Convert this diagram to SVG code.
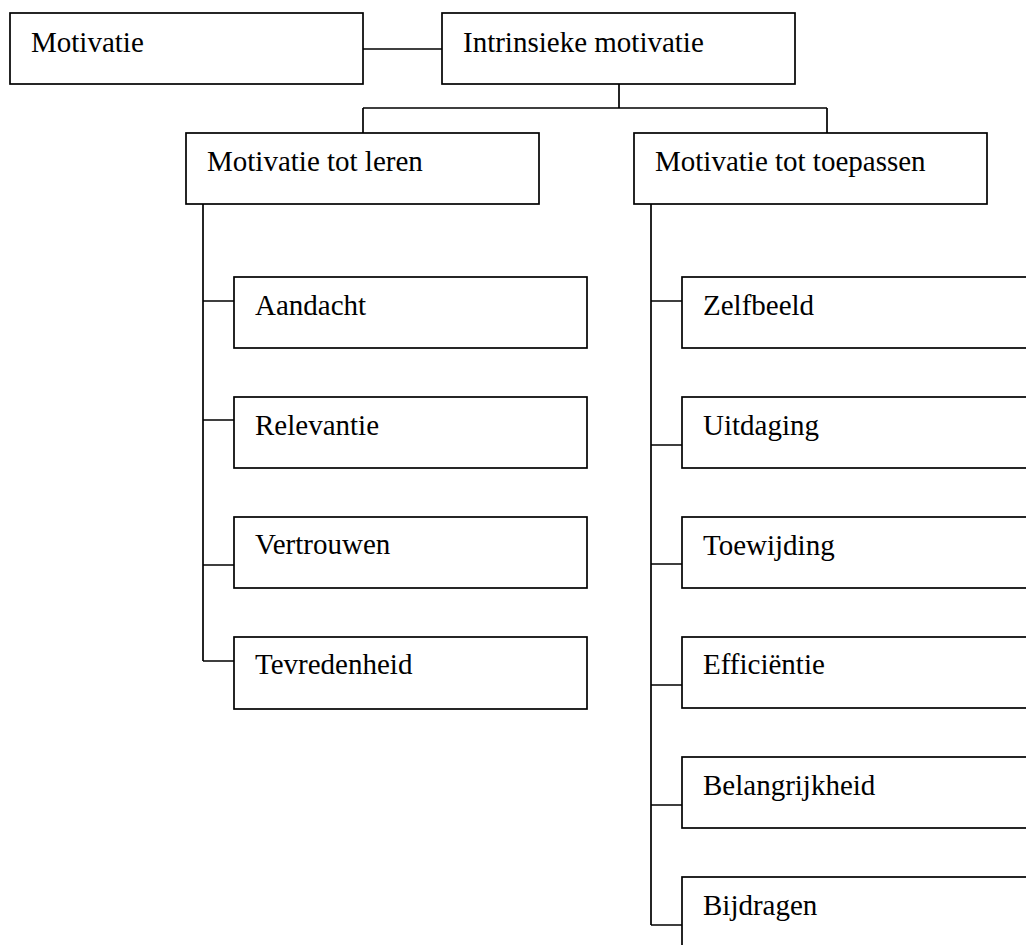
<svg xmlns="http://www.w3.org/2000/svg" width="1026" height="945" viewBox="0 0 1026 945">
<style>
rect.n{fill:#fff;stroke:#000;stroke-width:1.7}
text{font-family:"Liberation Serif","Times New Roman",serif;font-size:29px;fill:#000}
.c{fill:none;stroke:#000;stroke-width:1.7}
</style>
<rect width="1026" height="945" fill="#fff"/>
<g id="connectors" class="c">
<path d="M363 49H442"/>
<path d="M619 84V108M363 108H827M363 108V133M827 108V133"/>
<path d="M203 204V661M203 301H234M203 420H234M203 565H234M203 661H234"/>
<path d="M651 204V925M651 301H682M651 445H682M651 564H682M651 685H682M651 805H682M651 925H682"/>
</g>
<g id="motivatie"><rect class="n" x="10" y="13" width="353" height="71"/><text x="31" y="52">Motivatie</text></g>
<g id="intrinsiek"><rect class="n" x="442" y="13" width="353" height="71"/><text x="463" y="52">Intrinsieke motivatie</text></g>
<g id="leren"><rect class="n" x="186" y="133" width="353" height="71"/><text x="207" y="171">Motivatie tot leren</text></g>
<g id="toepassen"><rect class="n" x="634" y="133" width="353" height="71"/><text x="655" y="171">Motivatie tot toepassen</text></g>
<g id="aandacht"><rect class="n" x="234" y="277" width="353" height="71"/><text x="255" y="315">Aandacht</text></g>
<g id="relevantie"><rect class="n" x="234" y="397" width="353" height="71"/><text x="255" y="435">Relevantie</text></g>
<g id="vertrouwen"><rect class="n" x="234" y="517" width="353" height="71"/><text x="255" y="554">Vertrouwen</text></g>
<g id="tevredenheid"><rect class="n" x="234" y="637" width="353" height="72"/><text x="255" y="674">Tevredenheid</text></g>
<g id="zelfbeeld"><rect class="n" x="682" y="277" width="353" height="71"/><text x="703" y="315">Zelfbeeld</text></g>
<g id="uitdaging"><rect class="n" x="682" y="397" width="353" height="71"/><text x="703" y="435">Uitdaging</text></g>
<g id="toewijding"><rect class="n" x="682" y="517" width="353" height="71"/><text x="703" y="555">Toewijding</text></g>
<g id="efficientie"><rect class="n" x="682" y="637" width="353" height="71"/><text x="703" y="674">Efficiëntie</text></g>
<g id="belangrijkheid"><rect class="n" x="682" y="757" width="353" height="71"/><text x="703" y="795">Belangrijkheid</text></g>
<g id="bijdragen"><rect class="n" x="682" y="877" width="353" height="71"/><text x="703" y="915">Bijdragen</text></g>
</svg>
